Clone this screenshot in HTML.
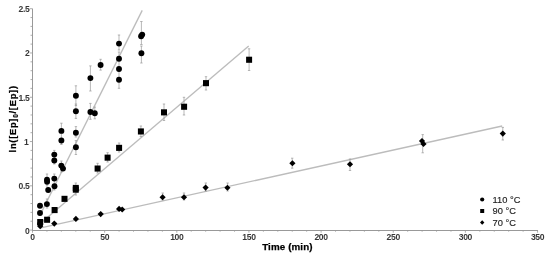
<!DOCTYPE html><html><head><meta charset="utf-8"><style>html,body{margin:0;padding:0;background:#fff;}svg{display:block;filter:blur(0.35px);}text{font-family:"Liberation Sans",sans-serif;}</style></head><body>
<svg width="550" height="259" viewBox="0 0 550 259">
<rect width="550" height="259" fill="#fff"/>
<line x1="39.70" y1="215.68" x2="142.2" y2="10.40" stroke="#bcbcbc" stroke-width="1.35"/>
<line x1="39.70" y1="223.97" x2="248.7" y2="45.90" stroke="#bcbcbc" stroke-width="1.35"/>
<line x1="39.70" y1="228.11" x2="502.2" y2="126.00" stroke="#bcbcbc" stroke-width="1.35"/>
<path d="M141.4 21.5V44.5M140.20000000000002 21.5H142.6M140.20000000000002 44.5H142.6" stroke="#9a9a9a" stroke-width="0.7" fill="none"/>
<path d="M141.4 46V63M140.20000000000002 46H142.6M140.20000000000002 63H142.6" stroke="#9a9a9a" stroke-width="0.7" fill="none"/>
<path d="M119.0 35.0V50M117.8 35.0H120.2M117.8 50H120.2" stroke="#9a9a9a" stroke-width="0.7" fill="none"/>
<path d="M119.0 52V88.3M117.8 52H120.2M117.8 88.3H120.2" stroke="#9a9a9a" stroke-width="0.7" fill="none"/>
<path d="M100.6 59.3V70.1M99.39999999999999 59.3H101.8M99.39999999999999 70.1H101.8" stroke="#9a9a9a" stroke-width="0.7" fill="none"/>
<path d="M90.4 65.9V91M89.2 65.9H91.60000000000001M89.2 91H91.60000000000001" stroke="#9a9a9a" stroke-width="0.7" fill="none"/>
<path d="M75.9 85.8V105.5M74.7 85.8H77.10000000000001M74.7 105.5H77.10000000000001" stroke="#9a9a9a" stroke-width="0.7" fill="none"/>
<path d="M75.9 104V118.4M74.7 104H77.10000000000001M74.7 118.4H77.10000000000001" stroke="#9a9a9a" stroke-width="0.7" fill="none"/>
<path d="M90.4 103.4V119.3M89.2 103.4H91.60000000000001M89.2 119.3H91.60000000000001" stroke="#9a9a9a" stroke-width="0.7" fill="none"/>
<path d="M94.8 107.1V118.8M93.6 107.1H96.0M93.6 118.8H96.0" stroke="#9a9a9a" stroke-width="0.7" fill="none"/>
<path d="M75.9 126.6V137M74.7 126.6H77.10000000000001M74.7 137H77.10000000000001" stroke="#9a9a9a" stroke-width="0.7" fill="none"/>
<path d="M75.9 140.6V154.5M74.7 140.6H77.10000000000001M74.7 154.5H77.10000000000001" stroke="#9a9a9a" stroke-width="0.7" fill="none"/>
<path d="M61.4 123.2V144.5M60.199999999999996 123.2H62.6M60.199999999999996 144.5H62.6" stroke="#9a9a9a" stroke-width="0.7" fill="none"/>
<path d="M54.3 150.4V164M53.099999999999994 150.4H55.5M53.099999999999994 164H55.5" stroke="#9a9a9a" stroke-width="0.7" fill="none"/>
<path d="M47.0 174V186M45.8 174H48.2M45.8 186H48.2" stroke="#9a9a9a" stroke-width="0.7" fill="none"/>
<path d="M54.3 174V190M53.099999999999994 174H55.5M53.099999999999994 190H55.5" stroke="#9a9a9a" stroke-width="0.7" fill="none"/>
<path d="M61.4 161V172M60.199999999999996 161H62.6M60.199999999999996 172H62.6" stroke="#9a9a9a" stroke-width="0.7" fill="none"/>
<path d="M47.0 199V208M45.8 199H48.2M45.8 208H48.2" stroke="#9a9a9a" stroke-width="0.7" fill="none"/>
<path d="M249.1 48.8V70.5M247.9 48.8H250.29999999999998M247.9 70.5H250.29999999999998" stroke="#9a9a9a" stroke-width="0.7" fill="none"/>
<path d="M206.0 76.7V90M204.8 76.7H207.2M204.8 90H207.2" stroke="#9a9a9a" stroke-width="0.7" fill="none"/>
<path d="M184.0 97.3V115M182.8 97.3H185.2M182.8 115H185.2" stroke="#9a9a9a" stroke-width="0.7" fill="none"/>
<path d="M164.0 104V120.5M162.8 104H165.2M162.8 120.5H165.2" stroke="#9a9a9a" stroke-width="0.7" fill="none"/>
<path d="M140.9 126V136.5M139.70000000000002 126H142.1M139.70000000000002 136.5H142.1" stroke="#9a9a9a" stroke-width="0.7" fill="none"/>
<path d="M107.6 152.7V162M106.39999999999999 152.7H108.8M106.39999999999999 162H108.8" stroke="#9a9a9a" stroke-width="0.7" fill="none"/>
<path d="M97.6 163.3V173M96.39999999999999 163.3H98.8M96.39999999999999 173H98.8" stroke="#9a9a9a" stroke-width="0.7" fill="none"/>
<path d="M119.1 143V152M117.89999999999999 143H120.3M117.89999999999999 152H120.3" stroke="#9a9a9a" stroke-width="0.7" fill="none"/>
<path d="M75.8 183V195M74.6 183H77.0M74.6 195H77.0" stroke="#9a9a9a" stroke-width="0.7" fill="none"/>
<path d="M502.8 127.4V140M501.6 127.4H504.0M501.6 140H504.0" stroke="#9a9a9a" stroke-width="0.7" fill="none"/>
<path d="M422.7 134.6V152.8M421.5 134.6H423.9M421.5 152.8H423.9" stroke="#9a9a9a" stroke-width="0.7" fill="none"/>
<path d="M350.0 159V170.5M348.8 159H351.2M348.8 170.5H351.2" stroke="#9a9a9a" stroke-width="0.7" fill="none"/>
<path d="M292.2 158.2V168.2M291.0 158.2H293.4M291.0 168.2H293.4" stroke="#9a9a9a" stroke-width="0.7" fill="none"/>
<path d="M227.6 183V191M226.4 183H228.79999999999998M226.4 191H228.79999999999998" stroke="#9a9a9a" stroke-width="0.7" fill="none"/>
<path d="M205.8 183V191M204.60000000000002 183H207.0M204.60000000000002 191H207.0" stroke="#9a9a9a" stroke-width="0.7" fill="none"/>
<path d="M162.7 193V200M161.5 193H163.89999999999998M161.5 200H163.89999999999998" stroke="#9a9a9a" stroke-width="0.7" fill="none"/>
<path d="M184.0 193V200M182.8 193H185.2M182.8 200H185.2" stroke="#9a9a9a" stroke-width="0.7" fill="none"/>
<path d="M32.5 8.7V231M32 230.5H538" stroke="#999" stroke-width="1" fill="none"/>
<path d="M32.50 230.5v2.2M46.93 230.5v1.2M61.36 230.5v1.2M75.79 230.5v1.2M90.22 230.5v1.2M104.65 230.5v2.2M119.08 230.5v1.2M133.51 230.5v1.2M147.94 230.5v1.2M162.37 230.5v1.2M176.80 230.5v2.2M191.23 230.5v1.2M205.66 230.5v1.2M220.09 230.5v1.2M234.52 230.5v1.2M248.95 230.5v2.2M263.38 230.5v1.2M277.81 230.5v1.2M292.24 230.5v1.2M306.67 230.5v1.2M321.10 230.5v2.2M335.53 230.5v1.2M349.96 230.5v1.2M364.39 230.5v1.2M378.82 230.5v1.2M393.25 230.5v2.2M407.68 230.5v1.2M422.11 230.5v1.2M436.54 230.5v1.2M450.97 230.5v1.2M465.40 230.5v2.2M479.83 230.5v1.2M494.26 230.5v1.2M508.69 230.5v1.2M523.12 230.5v1.2M537.55 230.5v2.2M32.5 230.10h-2.6M32.5 221.24h-2.0M32.5 212.39h-2.0M32.5 203.53h-2.0M32.5 194.68h-2.0M32.5 185.82h-2.6M32.5 176.96h-2.0M32.5 168.11h-2.0M32.5 159.25h-2.0M32.5 150.40h-2.0M32.5 141.54h-2.6M32.5 132.68h-2.0M32.5 123.83h-2.0M32.5 114.97h-2.0M32.5 106.12h-2.0M32.5 97.26h-2.6M32.5 88.40h-2.0M32.5 79.55h-2.0M32.5 70.69h-2.0M32.5 61.84h-2.0M32.5 52.98h-2.6M32.5 44.12h-2.0M32.5 35.27h-2.0M32.5 26.41h-2.0M32.5 17.56h-2.0M32.5 8.70h-2.6" stroke="#999" stroke-width="0.8" fill="none"/>
<text x="32.50" y="240.1" font-size="8.6" font-weight="bold" letter-spacing="-0.35" fill="#383838" text-anchor="middle">0</text>
<text x="104.65" y="240.1" font-size="8.6" font-weight="bold" letter-spacing="-0.35" fill="#383838" text-anchor="middle">50</text>
<text x="176.80" y="240.1" font-size="8.6" font-weight="bold" letter-spacing="-0.35" fill="#383838" text-anchor="middle">100</text>
<text x="248.95" y="240.1" font-size="8.6" font-weight="bold" letter-spacing="-0.35" fill="#383838" text-anchor="middle">150</text>
<text x="321.10" y="240.1" font-size="8.6" font-weight="bold" letter-spacing="-0.35" fill="#383838" text-anchor="middle">200</text>
<text x="393.25" y="240.1" font-size="8.6" font-weight="bold" letter-spacing="-0.35" fill="#383838" text-anchor="middle">250</text>
<text x="465.40" y="240.1" font-size="8.6" font-weight="bold" letter-spacing="-0.35" fill="#383838" text-anchor="middle">300</text>
<text x="537.55" y="240.1" font-size="8.6" font-weight="bold" letter-spacing="-0.35" fill="#383838" text-anchor="middle">350</text>
<text x="29.4" y="233.50" font-size="8.6" font-weight="bold" letter-spacing="-0.35" fill="#383838" text-anchor="end">0</text>
<text x="29.4" y="189.22" font-size="8.6" font-weight="bold" letter-spacing="-0.35" fill="#383838" text-anchor="end">0.5</text>
<text x="28.4" y="144.94" font-size="8.6" font-weight="bold" letter-spacing="-0.35" fill="#383838" text-anchor="end">1</text>
<text x="29.4" y="100.66" font-size="8.6" font-weight="bold" letter-spacing="-0.35" fill="#383838" text-anchor="end">1.5</text>
<text x="29.4" y="56.38" font-size="8.6" font-weight="bold" letter-spacing="-0.35" fill="#383838" text-anchor="end">2</text>
<text x="29.4" y="12.10" font-size="8.6" font-weight="bold" letter-spacing="-0.35" fill="#383838" text-anchor="end">2.5</text>
<text x="262.2" y="250" font-size="9.8" font-weight="bold" fill="#000" stroke="#000" stroke-width="0.25" textLength="50.3" lengthAdjust="spacing">Time (min)</text>
<text transform="translate(15.6,152.4) rotate(-90)" font-size="9.3" font-weight="bold" fill="#000" stroke="#000" stroke-width="0.2" textLength="66.4" lengthAdjust="spacing">ln([Ep]<tspan font-size="6.5" dy="2">0</tspan><tspan dy="-2">/[Ep])</tspan></text>
<g fill="#000"><circle cx="40.0" cy="205.8" r="2.95"/><circle cx="40.0" cy="213.0" r="2.95"/><circle cx="40.2" cy="224.0" r="2.95"/><circle cx="46.9" cy="204.1" r="2.95"/><circle cx="47.0" cy="179.8" r="2.95"/><circle cx="47.1" cy="181.8" r="2.95"/><circle cx="48.2" cy="190.0" r="2.95"/><circle cx="54.3" cy="154.6" r="2.95"/><circle cx="54.3" cy="160.5" r="2.95"/><circle cx="54.3" cy="178.6" r="2.95"/><circle cx="54.5" cy="186.3" r="2.95"/><circle cx="61.4" cy="130.9" r="2.95"/><circle cx="61.4" cy="140.5" r="2.95"/><circle cx="61.3" cy="165.6" r="2.95"/><circle cx="63.0" cy="168.6" r="2.95"/><circle cx="75.9" cy="95.8" r="2.95"/><circle cx="75.9" cy="111.2" r="2.95"/><circle cx="75.9" cy="132.8" r="2.95"/><circle cx="75.9" cy="147.3" r="2.95"/><circle cx="90.4" cy="78.1" r="2.95"/><circle cx="90.4" cy="112.0" r="2.95"/><circle cx="94.8" cy="113.2" r="2.95"/><circle cx="100.6" cy="65.0" r="2.95"/><circle cx="119.0" cy="43.6" r="2.95"/><circle cx="119.0" cy="58.8" r="2.95"/><circle cx="119.0" cy="69.0" r="2.95"/><circle cx="119.0" cy="79.7" r="2.95"/><circle cx="141.1" cy="36.3" r="2.95"/><circle cx="142.2" cy="34.6" r="2.95"/><circle cx="141.4" cy="53.3" r="2.95"/><rect x="37.20" y="219.00" width="6" height="6.1"/><rect x="44.10" y="216.70" width="6" height="6.1"/><rect x="51.60" y="207.00" width="6" height="6.1"/><rect x="61.50" y="195.80" width="6" height="6.1"/><rect x="72.80" y="184.90" width="6" height="6.1"/><rect x="72.80" y="186.60" width="6" height="6.1"/><rect x="94.60" y="165.50" width="6" height="6.1"/><rect x="104.60" y="154.60" width="6" height="6.1"/><rect x="116.10" y="144.80" width="6" height="6.1"/><rect x="137.90" y="128.40" width="6" height="6.1"/><rect x="161.00" y="109.30" width="6" height="6.1"/><rect x="181.10" y="103.70" width="6" height="6.1"/><rect x="203.00" y="80.10" width="6" height="6.1"/><rect x="246.10" y="56.70" width="6" height="6.1"/><path d="M40.2 223.15L43.30 226.2L40.2 229.25L37.10 226.2Z"/><path d="M54.3 220.55L57.40 223.6L54.3 226.65L51.20 223.6Z"/><path d="M75.9 215.85L79.00 218.9L75.9 221.95L72.80 218.9Z"/><path d="M100.7 211.05L103.80 214.1L100.7 217.15L97.60 214.1Z"/><path d="M119.1 205.85L122.20 208.9L119.1 211.95L116.00 208.9Z"/><path d="M122.2 206.45L125.30 209.5L122.2 212.55L119.10 209.5Z"/><path d="M162.6 194.15L165.70 197.2L162.6 200.25L159.50 197.2Z"/><path d="M184.0 194.25L187.10 197.3L184.0 200.35L180.90 197.3Z"/><path d="M205.6 184.55L208.70 187.6L205.6 190.65L202.50 187.6Z"/><path d="M227.4 184.75L230.50 187.8L227.4 190.85L224.30 187.8Z"/><path d="M292.4 160.25L295.50 163.3L292.4 166.35L289.30 163.3Z"/><path d="M350.0 161.25L353.10 164.3L350.0 167.35L346.90 164.3Z"/><path d="M422.0 137.95L425.10 141.0L422.0 144.05L418.90 141.0Z"/><path d="M423.5 140.95L426.60 144.0L423.5 147.05L420.40 144.0Z"/><path d="M502.8 130.55L505.90 133.6L502.8 136.65L499.70 133.6Z"/></g>
<g fill="#000"><circle cx="482.2" cy="199.5" r="2.1"/><rect x="480.2" y="209" width="4" height="4"/><path d="M482.2 220.3L484.4 222.5L482.2 224.7L480 222.5Z"/></g>
<text x="492.6" y="202.6" font-size="9.3" fill="#222" stroke="#222" stroke-width="0.15">110 °C</text>
<text x="492.6" y="214.2" font-size="9.3" fill="#222" stroke="#222" stroke-width="0.15">90 °C</text>
<text x="492.6" y="225.7" font-size="9.3" fill="#222" stroke="#222" stroke-width="0.15">70 °C</text>
</svg></body></html>
